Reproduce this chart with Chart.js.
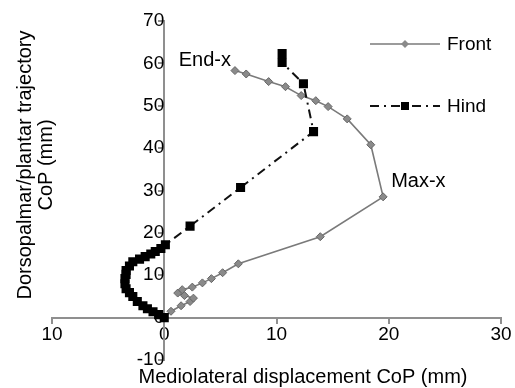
<!DOCTYPE html>
<html>
<head>
<meta charset="utf-8">
<script src="https://cdn.jsdelivr.net/npm/chart.js@4/dist/chart.umd.min.js"></script>
<style>
    html, body { margin: 0; padding: 0; background: #fff; }
    #wrap { width: 515px; height: 388px; position: relative; }
</style>
</head>
<body>
<div id="wrap"><canvas id="copChart"></canvas></div>
<script>
// --- Data (mm) ---
const frontX = [0, 0.6, 1.5, 2.3, 2.6, 1.8, 1.2, 1.6, 2.5, 3.4, 4.2, 5.2, 6.6, 13.9, 19.5, 18.4, 16.3, 14.6, 13.5, 12.2, 10.8, 9.3, 7.3, 6.3];
const frontY = [0, 1.5, 2.8, 3.8, 4.6, 5.2, 5.8, 6.6, 7.2, 8.2, 9.2, 10.6, 12.7, 19.1, 28.5, 40.8, 46.9, 49.8, 51.2, 52.4, 54.5, 55.7, 57.5, 58.3];

const hindX = [0, -0.5, -1, -1.5, -1.9, -2.4, -2.8, -3.1, -3.4, -3.5, -3.5, -3.4, -3.4, -3.1, -2.8, -2.2, -1.7, -1.2, -0.8, -0.3, 0.1, 2.3, 6.8, 13.3, 12.4, 10.5, 10.5];
const hindY = [0, 0.7, 1.4, 2.1, 2.8, 3.8, 5, 5.9, 6.8, 8, 9.2, 10.2, 11.1, 12.2, 13.2, 13.8, 14.4, 15, 15.6, 16.3, 17.2, 21.6, 30.7, 43.9, 55.2, 60.2, 62.3];

const seriesNames = ['Front', 'Hind'];
const xTickLabels = ['10', '0', '10', '20', '30'];
const yTickLabels = ['-10', '0', '10', '20', '30', '40', '50', '60', '70'];

const FONT = "'Liberation Sans', Arial, sans-serif";
const AXIS_COLOR = '#8f8f8f';

function toPoints(xs, ys) {
    return xs.map((x, i) => ({ x: x, y: ys[i] }));
}

// --- Titles, notes and legend drawn on top ---
const extrasPlugin = {
    id: 'extras',
    afterDraw(chart) {
        const ctx = chart.ctx;
        const xs = chart.scales.x;
        const ys = chart.scales.y;
        ctx.save();
        ctx.fillStyle = '#000';
        ctx.font = '20px ' + FONT;

        // axis titles
        ctx.textAlign = 'center';
        ctx.textBaseline = 'middle';
        ctx.fillText('Mediolateral displacement CoP (mm)', 303, 377);
        ctx.save();
        ctx.translate(25, 165);
        ctx.rotate(-Math.PI / 2);
        ctx.fillText('Dorsopalmar/plantar trajectory', 0, 0);
        ctx.fillText('CoP (mm)', 0, 21);
        ctx.restore();

        // notes next to the points
        const endIdx = frontX.length - 1;
        ctx.textAlign = 'right';
        ctx.fillText('End-x', xs.getPixelForValue(frontX[endIdx]) - 4, ys.getPixelForValue(frontY[endIdx]) - 10);
        ctx.textAlign = 'left';
        ctx.fillText('Max-x', xs.getPixelForValue(frontX[14]) + 8, ys.getPixelForValue(frontY[14]) - 15);

        // legend
        ctx.font = '19px ' + FONT;
        const rows = [44, 106];
        chart.data.datasets.forEach((ds, i) => {
            const y = rows[i];
            ctx.strokeStyle = ds.borderColor;
            ctx.lineWidth = ds.borderWidth;
            ctx.setLineDash(ds.borderDash || []);
            ctx.beginPath();
            ctx.moveTo(370, y);
            ctx.lineTo(440, y);
            ctx.stroke();
            ctx.setLineDash([]);
            ctx.fillStyle = ds.pointBackgroundColor;
            const r = ds.pointRadius;
            if (ds.pointStyle === 'rectRot') {
                ctx.beginPath();
                ctx.moveTo(405, y - r);
                ctx.lineTo(405 + r, y);
                ctx.lineTo(405, y + r);
                ctx.lineTo(405 - r, y);
                ctx.closePath();
                ctx.fill();
            } else {
                ctx.fillRect(405 - r * 0.8, y - r * 0.8, r * 1.6, r * 1.6);
            }
            ctx.fillStyle = '#000';
            ctx.textAlign = 'left';
            ctx.fillText(ds.label, 447, y + 1);
        });
        ctx.restore();
    }
};

const ctxCop = document.getElementById('copChart').getContext('2d');
new Chart(ctxCop, {
    type: 'scatter',
    data: {
        datasets: [
            {
                label: seriesNames[0],
                data: toPoints(frontX, frontY),
                showLine: true,
                borderColor: '#7a7a7a',
                borderWidth: 1.6,
                pointStyle: 'rectRot',
                pointRadius: 4,
                pointBackgroundColor: '#8a8a8a',
                pointBorderColor: '#666',
                pointBorderWidth: 1,
                order: 2
            },
            {
                label: seriesNames[1],
                data: toPoints(hindX, hindY),
                showLine: true,
                borderColor: '#111',
                borderWidth: 2,
                borderDash: [9, 5, 2, 5],
                pointStyle: 'rect',
                pointRadius: 5,
                pointBackgroundColor: '#000',
                pointBorderColor: '#000',
                order: 1
            }
        ]
    },
    options: {
        responsive: true,
        maintainAspectRatio: false,
        animation: false,
        layout: { padding: { left: 52, right: 14, top: 21, bottom: 28 } },
        plugins: {
            legend: { display: false },
            tooltip: { enabled: false }
        },
        scales: {
            x: {
                type: 'linear',
                position: { y: 0 },
                min: -10,
                max: 30,
                border: { color: AXIS_COLOR, width: 2 },
                grid: { drawOnChartArea: false, drawTicks: true, tickLength: 5, color: AXIS_COLOR, lineWidth: 2 },
                ticks: {
                    stepSize: 10,
                    color: '#000',
                    font: { family: FONT, size: 19 },
                    padding: 1,
                    callback: (v, i) => xTickLabels[i]
                }
            },
            y: {
                type: 'linear',
                position: { x: 0 },
                min: -10,
                max: 70,
                border: { color: AXIS_COLOR, width: 2 },
                grid: { drawOnChartArea: false, drawTicks: true, tickLength: 5, color: AXIS_COLOR, lineWidth: 2 },
                ticks: {
                    stepSize: 10,
                    color: '#000',
                    font: { family: FONT, size: 19 },
                    padding: 4,
                    callback: (v, i) => yTickLabels[i]
                }
            }
        }
    },
    plugins: [extrasPlugin]
});
</script>
</body>
</html>
